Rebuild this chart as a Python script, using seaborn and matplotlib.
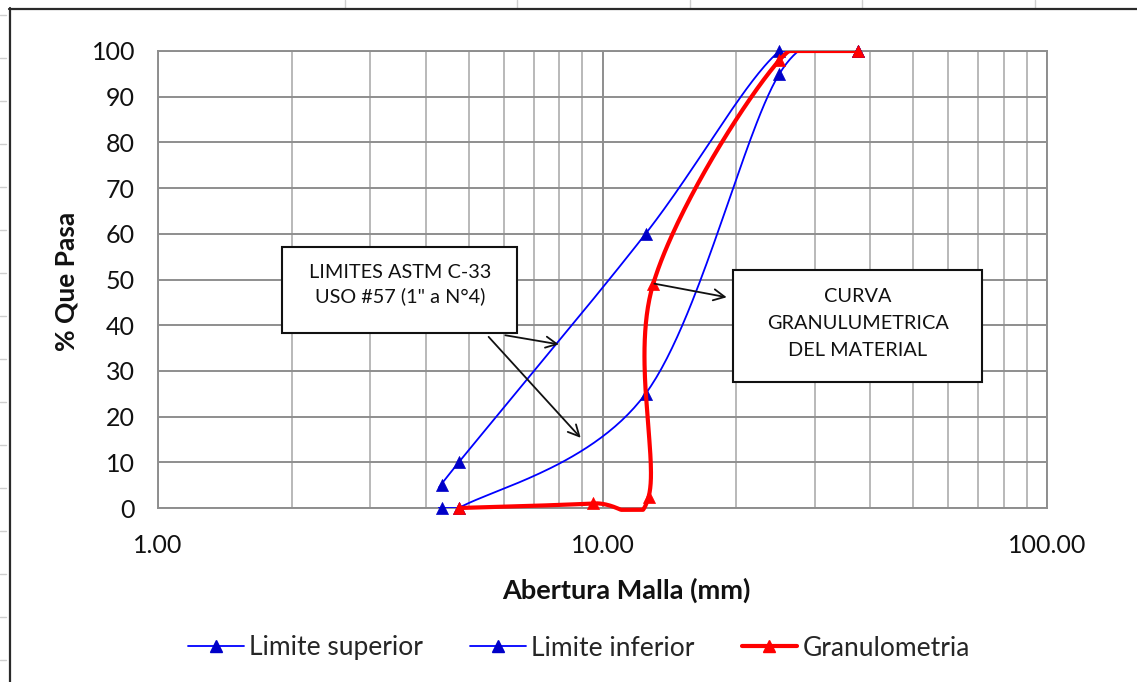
import numpy as np
import pandas as pd
import matplotlib
matplotlib.use("Agg")
import matplotlib.pyplot as plt
from matplotlib.lines import Line2D
from matplotlib.patches import Rectangle
from matplotlib.ticker import FixedLocator, NullFormatter
import seaborn as sns

# Sieve opening (mm) and percent passing
sup_mm = [4.36, 4.75, 12.5, 25.0, 37.5]
sup_pct = [5, 10, 60, 100, 100]
inf_mm = [4.36, 4.75, 12.5, 25.0, 37.5]
inf_pct = [0, 0, 25, 95, 100]
gran_mm = [4.75, 9.5, 12.7, 13.0, 25.0, 37.5]
gran_pct = [0, 1, 2.5, 49, 98, 100]

series_names = ["Limite superior", "Limite inferior", "Granulometria"]
x_ticks = [1, 10, 100]
x_tick_labels = ["1.00", "10.00", "100.00"]
y_ticks = list(range(0, 101, 10))

BLUE = "#0000ff"
BLUE_MK = "#0000c8"
RED = "#ff0000"
FONT = ["Lato", "DejaVu Sans"]

sns.set_style("white")
plt.rcParams["font.family"] = FONT

W, H = 1137, 682
fig = plt.figure(figsize=(W / 100, H / 100), dpi=100)
fig.patch.set_facecolor("white")

def fx(px):
    return px / W

def fy(py):
    return 1 - py / H

# worksheet cell lines around the embedded chart
for xc in [345, 517, 690, 862, 1035]:
    fig.add_artist(Line2D([fx(xc), fx(xc)], [fy(0), fy(8)], color="#cfcfcf", lw=1.0))
for yc in range(15, H, 43):
    fig.add_artist(Line2D([fx(0), fx(6)], [fy(yc), fy(yc)], color="#cfcfcf", lw=1.0))
# chart frame
fig.add_artist(Line2D([fx(9.5), fx(9.5)], [fy(8), fy(H + 5)], color="#2a2a2a", lw=1.6))
fig.add_artist(Line2D([fx(9), fx(W + 5)], [fy(8.5), fy(8.5)], color="#2a2a2a", lw=1.6))

L, R, T, B = 158, 1047, 51, 508
ax = fig.add_axes([fx(L), fy(B), fx(R - L), (B - T) / H])
ax.set_xscale("log")
ax.set_xlim(1, 100)
ax.set_ylim(0, 100)


def smooth(xs, ys, lo, hi, n=60):
    """Bezier smoothing in screen space, like a spreadsheet 'smoothed line'.
    The result is held inside the value range [lo, hi]."""
    P = ax.transData.transform(np.column_stack([xs, ys]))
    out = [P[0]]
    m = len(P)
    t = np.linspace(0, 1, n)[1:, None]
    for i in range(m - 1):
        p0 = P[i - 1] if i > 0 else P[i]
        p1, p2 = P[i], P[i + 1]
        p3 = P[i + 2] if i + 2 < m else P[i + 1]
        c1 = p1 + (p2 - p0) / 6
        c2 = p2 - (p3 - p1) / 6
        seg = ((1 - t) ** 3) * p1 + 3 * ((1 - t) ** 2) * t * c1 \
            + 3 * (1 - t) * t ** 2 * c2 + t ** 3 * p2
        out.extend(seg)
    D = ax.transData.inverted().transform(np.array(out))
    return pd.DataFrame({"x": D[:, 0], "y": np.clip(D[:, 1], lo, hi)})


series = [
    (sup_mm, sup_pct, BLUE, BLUE_MK, 1.3, 3, 0.0),
    (inf_mm, inf_pct, BLUE, BLUE_MK, 1.3, 3, 0.0),
    (gran_mm, gran_pct, RED, RED, 3.0, 5, 0.012),
]
for mm, pct, col, mcol, lw, z, below in series:
    curve = smooth(mm, pct, -0.4 if below else 0, 100)
    n_before = len(ax.lines)
    sns.lineplot(data=curve, x="x", y="y", ax=ax, sort=False, estimator=None,
                 color=col, lw=lw, zorder=z)
    # curves are cut at the top edge of the plot area
    clip = Rectangle((0, -below), 1, 1 + below, transform=ax.transAxes,
                     facecolor="none", edgecolor="none")
    for ln in ax.lines[n_before:]:
        ln.set_clip_path(clip)
    pts = pd.DataFrame({"x": mm, "y": pct})
    sns.scatterplot(data=pts, x="x", y="y", ax=ax, marker="^", s=75,
                    color=mcol, edgecolor=mcol, linewidth=0.5,
                    zorder=z + 0.5, clip_on=False)

ax.set_xlabel("")
ax.set_ylabel("")

# axes, grid and ticks
ax.xaxis.set_major_locator(FixedLocator(x_ticks))
ax.set_xticklabels(x_tick_labels)
ax.xaxis.set_minor_locator(FixedLocator(
    [d * k for d in (1, 10) for k in range(2, 10)]))
ax.xaxis.set_minor_formatter(NullFormatter())
ax.set_yticks(y_ticks)
ax.set_yticklabels([str(v) for v in y_ticks])

ax.grid(which="major", color="#8e8e8e", lw=1.4)
ax.grid(which="minor", axis="x", color="#b9b9b9", lw=1.4)
ax.set_axisbelow(True)
for s in ax.spines.values():
    s.set_color("#8e8e8e")
    s.set_linewidth(1.4)

ax.tick_params(axis="y", which="major", direction="out", length=4.5, width=1.2,
               color="#8e8e8e", pad=12, labelsize=18, labelcolor="#111111")
ax.tick_params(axis="x", which="major", direction="out", length=6, width=1.2,
               color="#8e8e8e", pad=13, labelsize=18, labelcolor="#111111")
ax.tick_params(axis="x", which="minor", length=0)

fig.text(fx(67), fy(281), "% Que Pasa", rotation=90, ha="center", va="center",
         fontsize=19, fontweight="bold", color="#111111")
fig.text(fx(626), fy(590), "Abertura Malla (mm)", ha="center", va="center",
         fontsize=19.5, fontweight="bold", color="#111111")

# call-out boxes
box_kw = dict(transform=ax.transAxes, facecolor="white", edgecolor="#111111",
              lw=1.5, zorder=8, clip_on=False)
ax.add_patch(Rectangle((0.1395, 0.383), 0.2645, 0.188, **box_kw))
ax.text(0.272, 0.489, "LIMITES ASTM C-33\nUSO #57 (1\" a N°4)", transform=ax.transAxes,
        ha="center", va="center", fontsize=14.3, linespacing=1.43, zorder=9,
        color="#111111")
ax.add_patch(Rectangle((0.647, 0.276), 0.280, 0.245, **box_kw))
ax.text(0.787, 0.403, "CURVA\nGRANULUMETRICA\nDEL MATERIAL", transform=ax.transAxes,
        ha="center", va="center", fontsize=14.3, linespacing=1.72, zorder=9,
        color="#111111")

arrow_kw = dict(arrowstyle="->,head_length=0.8,head_width=0.4", color="#111111", lw=1.3)
ax.annotate("", xy=(8.09, 35.7), xytext=(5.96, 37.9), arrowprops=arrow_kw, zorder=7)
ax.annotate("", xy=(9.02, 14.9), xytext=(5.49, 37.9), arrowprops=arrow_kw, zorder=7)
ax.annotate("", xy=(19.3, 46.0), xytext=(12.9, 49.2), arrowprops=arrow_kw, zorder=7)

# legend
handles = [
    Line2D([], [], color=BLUE, lw=1.3, marker="^", markersize=8,
           markerfacecolor=BLUE_MK, markeredgecolor=BLUE_MK),
    Line2D([], [], color=BLUE, lw=1.3, marker="^", markersize=8,
           markerfacecolor=BLUE_MK, markeredgecolor=BLUE_MK),
    Line2D([], [], color=RED, lw=3.0, marker="^", markersize=8,
           markerfacecolor=RED, markeredgecolor=RED),
]
fig.legend(handles, series_names, loc="center", bbox_to_anchor=(fx(579), fy(648)),
           ncol=3, frameon=False, fontsize=19, handlelength=2.1,
           handletextpad=0.2, columnspacing=1.8)

fig.savefig("out.png", dpi=100, facecolor="white")
